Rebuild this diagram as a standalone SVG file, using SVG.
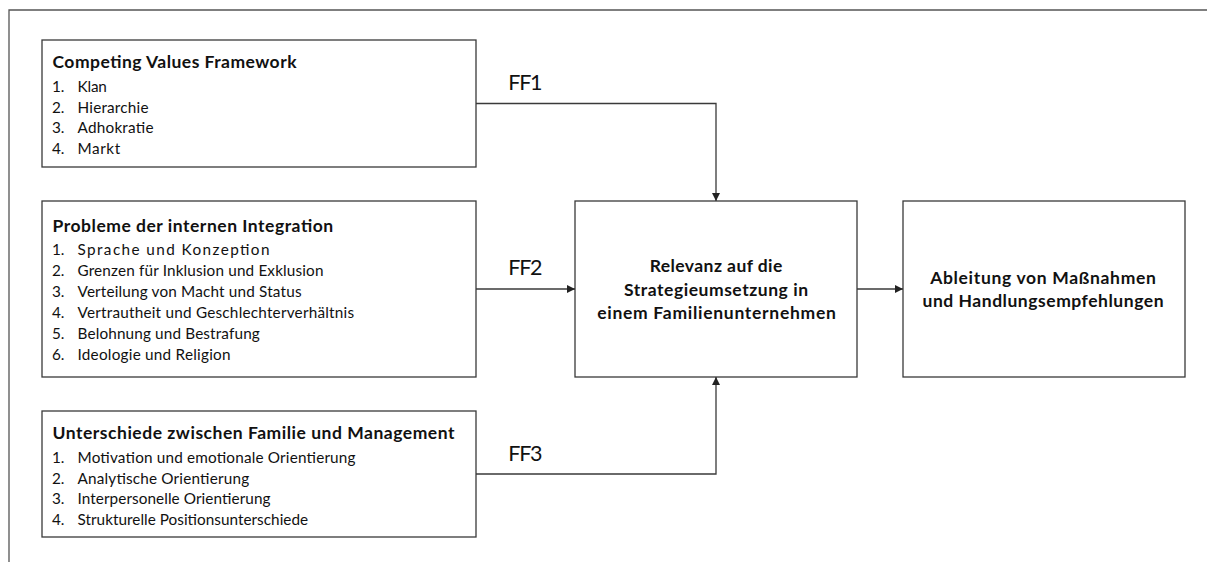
<svg xmlns="http://www.w3.org/2000/svg" width="1207" height="562" viewBox="0 0 1207 562">
<style>
text{font-family:Lato,"Liberation Sans",sans-serif;fill:#111}
.h{font-size:17.5px;font-weight:bold}
.b{font-size:15.3px}
.c{font-size:17.5px;font-weight:bold;text-anchor:middle}
.ff{font-size:21.5px}
.box{fill:#fff;stroke:#3a3a3a;stroke-width:1.3}
.con{fill:none;stroke:#3a3a3a;stroke-width:1.3}
.frame{fill:none;stroke:#555;stroke-width:1.3}
</style>
<defs>
<marker id="arr" markerUnits="userSpaceOnUse" markerWidth="9" markerHeight="9" refX="8" refY="4" orient="auto">
<path d="M0,0 L8,4 L0,8 z" fill="#222"/>
</marker>
</defs>
<rect width="1207" height="562" fill="#fff"/>
<path class="frame" d="M9,562 V10 H1207"/>

<g id="cvf">
<rect class="box" x="42" y="40" width="434" height="127"/>
<text class="h" x="52.5" y="67.5" textLength="244">Competing Values Framework</text>
<text class="b" x="52" y="92">1.</text><text class="b" x="77.5" y="92" textLength="29.4">Klan</text>
<text class="b" x="52" y="112.5">2.</text><text class="b" x="77.5" y="112.5" textLength="71">Hierarchie</text>
<text class="b" x="52" y="133">3.</text><text class="b" x="77.5" y="133" textLength="76">Adhokratie</text>
<text class="b" x="52" y="153.5">4.</text><text class="b" x="77.5" y="153.5" textLength="42.7">Markt</text>
</g>

<g id="integration">
<rect class="box" x="42" y="201" width="434" height="176"/>
<text class="h" x="52.5" y="231.5" textLength="280.6">Probleme der internen Integration</text>
<text class="b" x="52" y="254.5">1.</text><text class="b" x="77.5" y="254.5" textLength="192">Sprache und Konzeption</text>
<text class="b" x="52" y="275.5">2.</text><text class="b" x="77.5" y="275.5" textLength="246">Grenzen für Inklusion und Exklusion</text>
<text class="b" x="52" y="296.5">3.</text><text class="b" x="77.5" y="296.5" textLength="224">Verteilung von Macht und Status</text>
<text class="b" x="52" y="317.8">4.</text><text class="b" x="77.5" y="317.8" textLength="276.6">Vertrautheit und Geschlechterverhältnis</text>
<text class="b" x="52" y="338.9">5.</text><text class="b" x="77.5" y="338.9" textLength="182.3">Belohnung und Bestrafung</text>
<text class="b" x="52" y="360">6.</text><text class="b" x="77.5" y="360" textLength="153">Ideologie und Religion</text>
</g>

<g id="unterschiede">
<rect class="box" x="42" y="411" width="434" height="126"/>
<text class="h" x="52.5" y="438.5" textLength="402">Unterschiede zwischen Familie und Management</text>
<text class="b" x="52" y="463">1.</text><text class="b" x="77.5" y="463" textLength="278">Motivation und emotionale Orientierung</text>
<text class="b" x="52" y="483.5">2.</text><text class="b" x="77.5" y="483.5" textLength="171.6">Analytische Orientierung</text>
<text class="b" x="52" y="504">3.</text><text class="b" x="77.5" y="504" textLength="193">Interpersonelle Orientierung</text>
<text class="b" x="52" y="524.5">4.</text><text class="b" x="77.5" y="524.5" textLength="230.6">Strukturelle Positionsunterschiede</text>
</g>

<g id="relevanz">
<rect class="box" x="575" y="201" width="282" height="176"/>
<text class="c" x="716" y="272" textLength="132.7">Relevanz auf die</text>
<text class="c" x="716" y="295.5" textLength="184">Strategieumsetzung in</text>
<text class="c" x="716.5" y="319" textLength="238.7">einem Familienunternehmen</text>
</g>

<g id="ableitung">
<rect class="box" x="903" y="201" width="282" height="176"/>
<text class="c" x="1043" y="283.7" textLength="225.7">Ableitung von Maßnahmen</text>
<text class="c" x="1043" y="307.2" textLength="241">und Handlungsempfehlungen</text>
</g>

<g id="connectors">
<path class="con" d="M476,103.5 H716 V201" marker-end="url(#arr)"/>
<path class="con" d="M476,289 H575" marker-end="url(#arr)"/>
<path class="con" d="M476,474 H716 V377" marker-end="url(#arr)"/>
<path class="con" d="M857,289 H903" marker-end="url(#arr)"/>
<text class="ff" x="508.3" y="89.5" textLength="34.3">FF1</text>
<text class="ff" x="508.3" y="275" textLength="34.3">FF2</text>
<text class="ff" x="508.3" y="460.5" textLength="34.3">FF3</text>
</g>
</svg>
